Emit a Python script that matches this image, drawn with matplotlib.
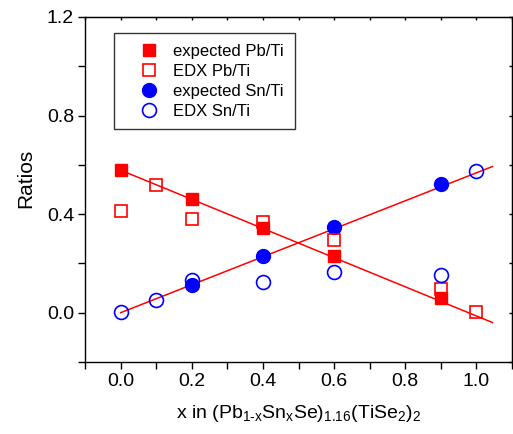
import numpy as np
import matplotlib
matplotlib.use("Agg")
import matplotlib.pyplot as plt
from matplotlib.ticker import MultipleLocator, FormatStrFormatter

plt.rcParams['font.family'] = ['Liberation Sans', 'DejaVu Sans']
plt.rcParams['mathtext.fontset'] = 'custom'
plt.rcParams['mathtext.rm'] = 'Liberation Sans'
plt.rcParams['mathtext.it'] = 'Liberation Sans'
plt.rcParams['mathtext.default'] = 'regular'

# values
x_exp_pb = [0.0, 0.2, 0.4, 0.6, 0.9]
exp_pb = [0.577, 0.462, 0.345, 0.231, 0.058]

x_edx_pb = [0.0, 0.1, 0.2, 0.4, 0.6, 0.9, 1.0]
edx_pb = [0.411, 0.519, 0.380, 0.366, 0.293, 0.096, 0.001]

x_exp_sn = [0.2, 0.4, 0.6, 0.9]
exp_sn = [0.113, 0.231, 0.347, 0.523]

x_edx_sn = [0.0, 0.1, 0.2, 0.4, 0.6, 0.9, 1.0]
edx_sn = [0.001, 0.053, 0.134, 0.124, 0.167, 0.151, 0.573]

# end points of the two fitted lines
x_fit = [0.0, 1.045]
fit_pb = [0.578, -0.040]
fit_sn = [0.0, 0.593]

fig = plt.figure(figsize=(5.13, 4.34), dpi=100)
ax = fig.add_axes([0.166, 0.166, 0.832, 0.795])

ax.plot(x_fit, fit_pb, color='red', lw=1.1, zorder=2)
ax.plot(x_fit, fit_sn, color='red', lw=1.1, zorder=2)

ax.plot(x_exp_pb, exp_pb, 's', color='red', ms=9, mec='red',
        label='expected Pb/Ti', zorder=3)
ax.plot(x_edx_pb, edx_pb, 's', color='red', ms=9, mfc='none', mew=1.2,
        label='EDX Pb/Ti', zorder=4)
ax.plot(x_exp_sn, exp_sn, 'o', color='blue', ms=10, mec='blue',
        label='expected Sn/Ti', zorder=3)
ax.plot(x_edx_sn, edx_sn, 'o', color='blue', ms=10, mfc='none', mew=1.2,
        label='EDX Sn/Ti', zorder=4)

ax.set_xlim(-0.1, 1.1)
ax.set_ylim(-0.2, 1.2)
ax.xaxis.set_major_locator(MultipleLocator(0.2))
ax.xaxis.set_minor_locator(MultipleLocator(0.1))
ax.yaxis.set_major_locator(MultipleLocator(0.4))
ax.yaxis.set_minor_locator(MultipleLocator(0.2))
ax.xaxis.set_major_formatter(FormatStrFormatter('%.1f'))
ax.yaxis.set_major_formatter(FormatStrFormatter('%.1f'))
ax.tick_params(which='both', direction='out', length=5, width=1,
               labelsize=14, pad=3)

# tiny inward ticks on the top and right edges
top = ax.secondary_xaxis('top')
top.xaxis.set_major_locator(MultipleLocator(0.1))
top.tick_params(direction='in', length=2, width=1, labeltop=False)
right = ax.secondary_yaxis('right')
right.yaxis.set_major_locator(MultipleLocator(0.2))
right.tick_params(direction='in', length=2, width=1, labelright=False)

for s in ax.spines.values():
    s.set_linewidth(1)

ax.set_xlabel(r'x in (Pb$_{1\text{-}x}$Sn$_x$Se)$_{1.16}$(TiSe$_2$)$_2$',
              fontsize=14, labelpad=9)
ax.set_ylabel('Ratios', fontsize=15)
ax.yaxis.set_label_coords(-0.117, 0.533)

leg = ax.legend(loc='upper left', bbox_to_anchor=(0.068, 0.954), fontsize=12,
                frameon=True, fancybox=False, edgecolor='black',
                handlelength=2.9, handletextpad=0.0, labelspacing=0.3,
                borderpad=0.65, borderaxespad=0)
leg.get_frame().set_linewidth(1)

fig.savefig('out.png', dpi=100)
